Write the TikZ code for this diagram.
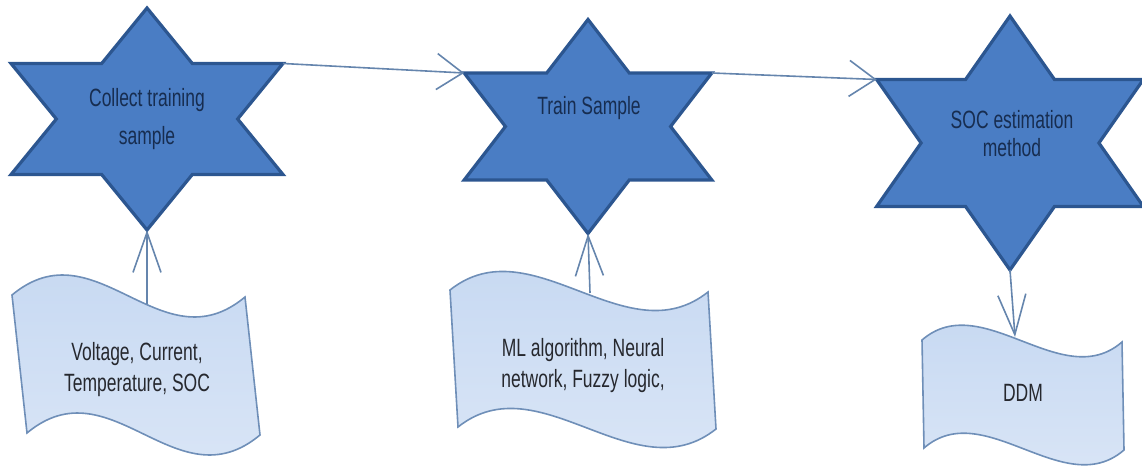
\documentclass[tikz,border=0pt]{standalone}
\usepackage{fontspec}
\usetikzlibrary{arrows.meta}
\newfontfamily\cond[FakeStretch=0.7]{Liberation Sans}
\definecolor{starfill}{HTML}{4A7DC4}
\definecolor{starline}{HTML}{2C5690}
\definecolor{wavetop}{HTML}{C4D7F1}
\definecolor{wavebot}{HTML}{DCE7F7}
\definecolor{waveline}{HTML}{6F8FB8}
\definecolor{arrowcol}{HTML}{6585AD}
\definecolor{startext}{HTML}{172D50}
\definecolor{wavetext}{HTML}{26282E}
\tikzset{
  starsty/.style={fill=starfill, draw=starline, line width=3.2pt, line join=miter},
  wavesty/.style={top color=wavetop, bottom color=wavebot, draw=waveline, line width=1.6pt},
  startxt/.style={text=startext, align=center, font=\cond\fontsize{25}{#1}\selectfont},
  wavetxt/.style={text=wavetext, align=center, font=\cond\fontsize{25}{31}\selectfont},
  harrow/.style={draw=arrowcol, line width=1.6pt, -{Straight Barb[length=26pt,width=36pt]}},
  varrow/.style={draw=arrowcol, line width=1.6pt, -{Straight Barb[length=40pt,width=28pt]}}
}
% name cx cy rx ry
\newcommand\hexstar[5]{%
  \draw[starsty] ({#2},{#3-#5}) -- ({#2+0.2887*#4},{#3-0.5*#5}) -- ({#2+0.866*#4},{#3-0.5*#5})
    -- ({#2+0.5774*#4},{#3}) -- ({#2+0.866*#4},{#3+0.5*#5}) -- ({#2+0.2887*#4},{#3+0.5*#5})
    -- ({#2},{#3+#5}) -- ({#2-0.2887*#4},{#3+0.5*#5}) -- ({#2-0.866*#4},{#3+0.5*#5})
    -- ({#2-0.5774*#4},{#3}) -- ({#2-0.866*#4},{#3-0.5*#5}) -- ({#2-0.2887*#4},{#3-0.5*#5}) -- cycle;
  \coordinate (#1-t) at ({#2},{#3-#5});
  \coordinate (#1-b) at ({#2},{#3+#5});
  \coordinate (#1-l) at ({#2-0.866*#4},{#3-0.5*#5});
  \coordinate (#1-r) at ({#2+0.866*#4},{#3-0.5*#5});
}
% x0 y0 x1 y1 dx dy a h
\newcommand\wavebox[8]{%
  \draw[wavesty] ({#1},{#2}) .. controls ({#1+#7},{#2-#8}) and ({#3-#7},{#4+#8}) .. ({#3},{#4})
    -- ({#3+#5},{#4+#6}) .. controls ({#3-#7+#5},{#4+#8+#6}) and ({#1+#7+#5},{#2-#8+#6}) .. ({#1+#5},{#2+#6}) -- cycle;
}
\begin{document}
\begin{tikzpicture}[x=1pt,y=-1pt]
\useasboundingbox (0,0) rectangle (1142,470);
% stars
\hexstar{s1}{147}{119}{157}{111}
\hexstar{s2}{588}{126.5}{143}{107}
\hexstar{s3}{1010}{143}{154}{127}
\node[startxt=38] (t1) at (147,119) {Collect training\\sample};
\node[startxt=28] (t2) at (589,108) {Train Sample};
\node[startxt=28] (t3) at (1012,134) {SOC estimation\\method};
% waves
\wavebox{12}{295}{245}{297}{15}{138}{84}{70}
\wavebox{450}{290}{708}{292}{8}{137}{82}{65}
\wavebox{922}{340}{1122}{342}{2}{108}{60}{52}
\node[wavetxt] (w1) at (137,370) {Voltage, Current,\\Temperature, SOC};
\node[wavetxt] (w2) at (583,366) {ML algorithm, Neural\\network, Fuzzy logic,};
\node[wavetxt] (w3) at (1023,393) {DDM};
\coordinate (w1-t) at (147,304);
\coordinate (w2-t) at (590,293);
\coordinate (w3-t) at (1015,337);
% connectors
\draw[harrow] (s1-r) -- (s2-l);
\draw[harrow] (s2-r) -- (s3-l);
\draw[varrow] (w1-t) -- (s1-b);
\draw[varrow] (w2-t) -- (s2-b);
\draw[varrow] (s3-b) -- (w3-t);
\end{tikzpicture}
\end{document}
